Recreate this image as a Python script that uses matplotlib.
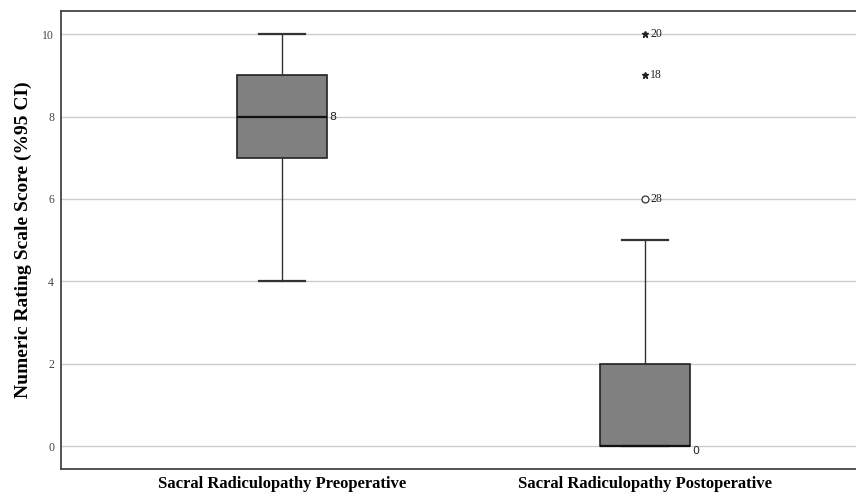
import matplotlib
matplotlib.use("Agg")
import matplotlib.pyplot as plt

# groups and box statistics
groups = ["Sacral Radiculopathy Preoperative", "Sacral Radiculopathy Postoperative"]
whisker_low = [4, 0]
q1 = [7, 0]
median = [8, 0]
q3 = [9, 2]
whisker_high = [10, 5]
median_labels = ["8", "0"]

# outliers (group index, value, case label, kind)
out_group = [1, 1, 1]
out_value = [6, 9, 10]
out_label = ["28", "18", "20"]
out_kind = ["o", "*", "*"]

yticks = [0, 2, 4, 6, 8, 10]

plt.rcParams['font.family'] = ['Liberation Serif', 'DejaVu Serif']

fig = plt.figure(figsize=(8.56, 4.94), dpi=100)
ax = fig.add_axes([61 / 856, 25 / 494, 795 / 856, 458 / 494])

positions = [1, 2]
stats = []
for i in range(len(groups)):
    stats.append({
        "whislo": whisker_low[i], "q1": q1[i], "med": median[i],
        "q3": q3[i], "whishi": whisker_high[i], "fliers": [], "label": groups[i],
    })

ax.bxp(stats, positions=positions, widths=0.25, patch_artist=True, showfliers=False,
       boxprops=dict(facecolor="#808080", edgecolor="#222222", linewidth=1.2),
       medianprops=dict(color="#111111", linewidth=1.6),
       whiskerprops=dict(color="#333333", linewidth=1),
       capprops=dict(color="#333333", linewidth=1.6),
       capwidths=0.125, zorder=3)

# median value labels next to the boxes
for i in range(len(groups)):
    ax.text(positions[i] + 0.13, median[i], median_labels[i], fontsize=8,
            family="DejaVu Sans", ha="left", va="center" if i == 0 else "top", color="#222222")

# outliers
for g, v, lab, k in zip(out_group, out_value, out_label, out_kind):
    x = positions[g]
    if k == "o":
        ax.plot(x, v, marker="o", ms=5, mfc="white", mec="#333333", mew=0.9, zorder=4)
    else:
        ax.plot(x, v, marker="*", ms=5, color="#222222", zorder=4)
    ax.text(x + 0.014, v, lab, fontsize=8.5, ha="left", va="center", color="#222222")

ax.set_xlim(0.391, 2.581)
ax.set_ylim(-0.55, 10.56)
ax.set_yticks(yticks)
ax.set_yticklabels([str(t) for t in yticks], fontsize=8.5, color="#444444")
ax.set_xticks(positions)
ax.set_xticklabels(groups, fontsize=12, fontweight="bold")
ax.tick_params(axis="y", length=0, pad=5)
ax.tick_params(axis="x", length=0, pad=5)
ax.yaxis.grid(True, color="#cccccc", linewidth=1)
ax.set_axisbelow(True)
ax.set_ylabel("Numeric Rating Scale Score (%95 CI)", fontsize=14, fontweight="bold", labelpad=7)

for side in ["left", "bottom", "top"]:
    ax.spines[side].set_color("#444444")
    ax.spines[side].set_linewidth(1.3)
ax.spines["right"].set_visible(False)

fig.savefig("out.png", dpi=100)
